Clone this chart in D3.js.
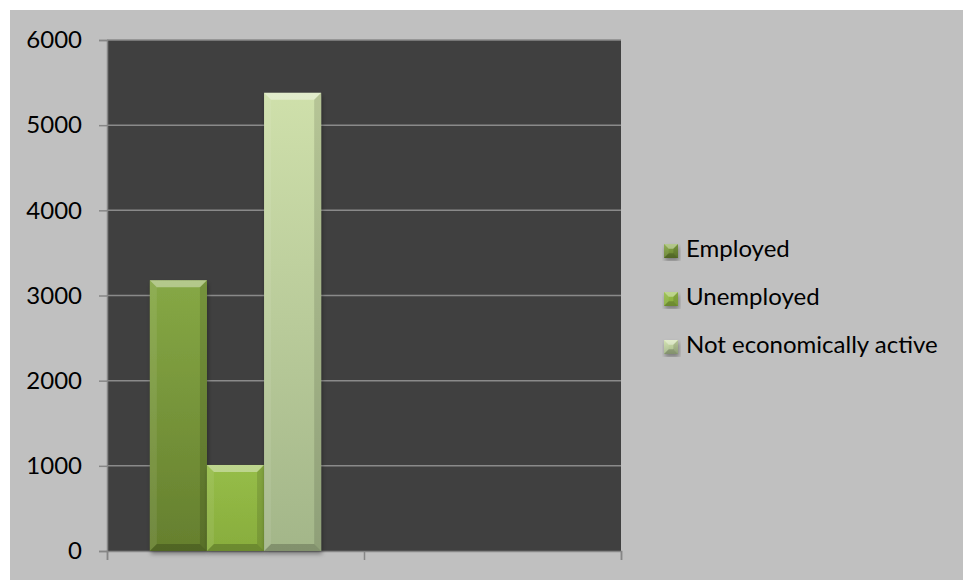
<!DOCTYPE html>
<html>
<head>
<meta charset="utf-8">
<script src="https://cdn.jsdelivr.net/npm/d3@7"></script>
<style>
  body { margin: 0; background: #fff; }
  svg { display: block; }
</style>
</head>
<body>
<div id="chart"></div>
<script>
// data
var categories = ["1", "2"];
var seriesNames = ["Employed", "Unemployed", "Not economically active"];
var employed = [3180, null];
var unemployed = [1010, null];
var notActive = [5380, null];
var yTicks = [0, 1000, 2000, 3000, 4000, 5000, 6000];

var seriesValues = [employed, unemployed, notActive];
var colors = [
  {top: "#86a845", bottom: "#657f2e"},
  {top: "#96bd48", bottom: "#88ad3d"},
  {top: "#cfe0ab", bottom: "#a3b689"}
];

var W = 963, H = 580;
var plot = {left: 107, right: 621, top: 40, bottom: 551};

var svg = d3.select("#chart")
  .append("svg")
    .attr("width", W)
    .attr("height", H);

var defs = svg.append("defs");
colors.forEach(function(c, i) {
  var g = defs.append("linearGradient")
    .attr("id", "grad" + i)
    .attr("x1", 0).attr("y1", 0).attr("x2", 0).attr("y2", 1);
  g.append("stop").attr("offset", "0%").attr("stop-color", c.top);
  g.append("stop").attr("offset", "100%").attr("stop-color", c.bottom);
});
var shadow = defs.append("filter").attr("id", "shadow")
  .attr("x", "-10%").attr("y", "-10%").attr("width", "130%").attr("height", "130%");
shadow.append("feDropShadow")
  .attr("dx", 1).attr("dy", 3).attr("stdDeviation", 2)
  .attr("flood-color", "#000").attr("flood-opacity", 0.35);

// chart background
svg.append("rect")
  .attr("x", 10).attr("y", 10)
  .attr("width", W - 10).attr("height", H - 10)
  .attr("fill", "#c0c0c0");

// plot area
svg.append("rect")
  .attr("x", plot.left).attr("y", plot.top)
  .attr("width", plot.right - plot.left).attr("height", plot.bottom - plot.top)
  .attr("fill", "#404040");

var y = d3.scaleLinear()
  .domain([0, 6000])
  .range([plot.bottom, plot.top]);

var x0 = d3.scaleBand()
  .domain(categories)
  .range([plot.left, plot.right])
  .padding(0);

var x1 = d3.scaleBand()
  .domain(seriesNames)
  .range([0, x0.bandwidth()])
  .paddingInner(0)
  .paddingOuter(0.75);

// gridlines
svg.append("g")
  .selectAll("line")
  .data(yTicks.filter(function(d) { return d > 0; }))
  .enter()
  .append("line")
    .attr("x1", plot.left).attr("x2", plot.right)
    .attr("y1", function(d) { return y(d); })
    .attr("y2", function(d) { return y(d); })
    .attr("stroke", "#8a8a8a")
    .attr("stroke-width", 1.5);

// y axis
var yAxis = svg.append("g")
  .attr("transform", "translate(" + plot.left + ",0)")
  .call(d3.axisLeft(y).tickValues(yTicks).tickSize(8).tickPadding(17).tickFormat(d3.format("d")));
yAxis.select(".domain").attr("stroke", "#868686").attr("stroke-width", 1.5);
yAxis.selectAll(".tick line").attr("stroke", "#868686").attr("stroke-width", 1.5);
yAxis.selectAll(".tick text")
  .attr("fill", "#000")
  .style("font-family", "Lato, sans-serif")
  .style("font-size", "24px");

// x axis
var xAxis = svg.append("g")
  .attr("transform", "translate(0," + plot.bottom + ")")
  .call(d3.axisBottom(d3.scaleLinear().domain([0, 2]).range([plot.left, plot.right]))
    .tickValues([0, 1, 2]).tickSize(9).tickFormat(""));
xAxis.select(".domain").attr("stroke", "#868686").attr("stroke-width", 1.5);
xAxis.selectAll(".tick line").attr("stroke", "#868686").attr("stroke-width", 1.5);

// bars with bevel
var bev = 7;
function bevelBar(g, bx, by, bw, bh, i) {
  g.append("rect")
    .attr("x", bx).attr("y", by).attr("width", bw).attr("height", bh)
    .attr("fill", "url(#grad" + i + ")")
    .attr("filter", "url(#shadow)");
  var b = Math.min(bev, bw / 3, bh / 3);
  var x2 = bx + bw, y2 = by + bh;
  var faces = [
    {pts: [[bx, by], [x2, by], [x2 - b, by + b], [bx + b, by + b]], fill: "#fff", op: 0.38},
    {pts: [[bx, by], [bx + b, by + b], [bx + b, y2 - b], [bx, y2]], fill: "#fff", op: 0.08},
    {pts: [[x2, by], [x2, y2], [x2 - b, y2 - b], [x2 - b, by + b]], fill: "#000", op: 0.12},
    {pts: [[bx, y2], [bx + b, y2 - b], [x2 - b, y2 - b], [x2, y2]], fill: "#000", op: 0.2}
  ];
  faces.forEach(function(f) {
    g.append("polygon")
      .attr("points", f.pts.map(function(p) { return p.join(","); }).join(" "))
      .attr("fill", f.fill)
      .attr("fill-opacity", f.op);
  });
}

var bars = svg.append("g");
seriesValues.forEach(function(vals, i) {
  categories.forEach(function(cat, j) {
    if (vals[j] == null) return;
    var bx = x0(cat) + x1(seriesNames[i]);
    bevelBar(bars, bx, y(vals[j]), x1.bandwidth(), y(0) - y(vals[j]), i);
  });
});

// legend
var legend = svg.append("g")
  .attr("transform", "translate(664,244)");
seriesNames.forEach(function(name, i) {
  var row = legend.append("g").attr("transform", "translate(0," + (i * 48) + ")");
  bevelBar(row, 0, 0, 14, 14, i);
  row.append("text")
    .attr("x", 22)
    .attr("y", 13)
    .attr("fill", "#000")
    .style("font-family", "Lato, sans-serif")
    .style("font-size", "24px")
    .text(name);
});
</script>
</body>
</html>
